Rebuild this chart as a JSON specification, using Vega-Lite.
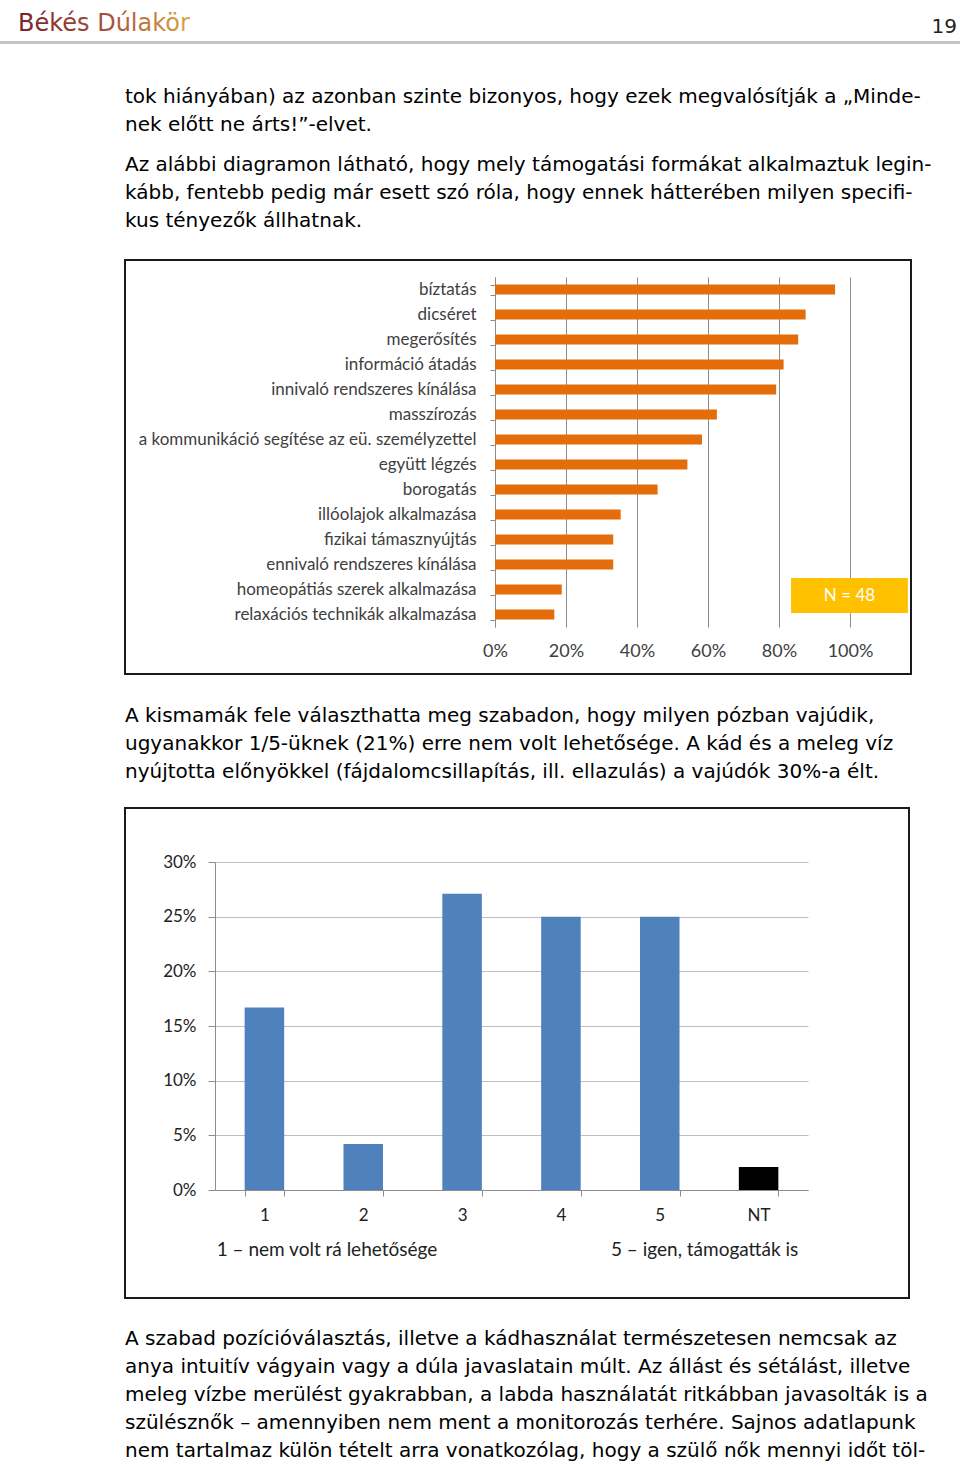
{
  "$schema": "https://vega.github.io/schema/vega-lite/v6.json",
  "padding": {"top": 10, "left": 0, "right": 0, "bottom": 0},
  "background": "white",
  "spacing": 42,
  "config": {
    "view": {"stroke": null},
    "font": "DejaVu Sans",
    "title": {
      "anchor": "start",
      "frame": "group",
      "font": "DejaVu Sans",
      "fontSize": 20,
      "fontWeight": "normal",
      "color": "#000000",
      "lineHeight": 28,
      "subtitleFont": "DejaVu Sans",
      "subtitleFontSize": 20,
      "subtitleColor": "#000000",
      "subtitleLineHeight": 28,
      "subtitlePadding": 20,
      "offset": 30
    }
  },
  "vconcat": [
    {
      "width": 960,
      "height": 1,
      "view": {"stroke": "#c4c4c4", "strokeWidth": 2, "fill": "#c4c4c4"},
      "data": {"values": [
        {"hely": "bal", "szoveg": "Békés Dúlakör"},
        {"hely": "jobb", "szoveg": "19"}
      ]},
      "encoding": {
        "x": {"field": "hely", "type": "nominal", "scale": {"type": "point", "domain": ["bal", "jobb"], "padding": 0}, "axis": null}
      },
      "layer": [
        {
          "transform": [{"filter": "datum.hely === 'bal'"}],
          "mark": {"type": "text", "align": "left", "baseline": "alphabetic", "dx": 17, "dy": -12, "font": "DejaVu Sans", "fontSize": 24,
            "color": {"gradient": "linear", "x1": 0, "x2": 1, "y1": 0, "y2": 0, "stops": [{"offset": 0, "color": "#762428"}, {"offset": 0.55, "color": "#a8553a"}, {"offset": 1, "color": "#dba846"}]}},
          "encoding": {"text": {"field": "szoveg"}}
        },
        {
          "transform": [{"filter": "datum.hely === 'jobb'"}],
          "mark": {"type": "text", "align": "right", "baseline": "alphabetic", "dx": -4, "dy": -10, "font": "DejaVu Sans", "fontSize": 20, "color": "#222222"},
          "encoding": {"text": {"field": "szoveg"}}
        }
      ]
    },
    {
      "spacing": 0,
      "hconcat": [
        {
          "width": 123,
          "height": 1,
          "data": {"values": []},
          "mark": "point"
        },
        {
          "spacing": 30,
          "vconcat": [
            {
              "width": 786,
              "height": 414,
              "view": {"stroke": "#1a1a1a", "strokeWidth": 2},
              "title": {
                "text": ["tok hiányában) az azonban szinte bizonyos, hogy ezek megvalósítják a „Minde-", "nek előtt ne árts!”-elvet."],
                "subtitle": ["Az alábbi diagramon látható, hogy mely támogatási formákat alkalmaztuk legin-", "kább, fentebb pedig már esett szó róla, hogy ennek hátterében milyen specifi-", "kus tényezők állhatnak."],
                "offset": 20
              },
              "data": {"values": [
                {"forma": "bíztatás", "arany": 0.958},
                {"forma": "dicséret", "arany": 0.875},
                {"forma": "megerősítés", "arany": 0.854},
                {"forma": "információ átadás", "arany": 0.813},
                {"forma": "innivaló rendszeres kínálása", "arany": 0.792},
                {"forma": "masszírozás", "arany": 0.625},
                {"forma": "a kommunikáció segítése az eü. személyzettel", "arany": 0.583},
                {"forma": "együtt légzés", "arany": 0.542},
                {"forma": "borogatás", "arany": 0.458},
                {"forma": "illóolajok alkalmazása", "arany": 0.354},
                {"forma": "fizikai támasznyújtás", "arany": 0.333},
                {"forma": "ennivaló rendszeres kínálása", "arany": 0.333},
                {"forma": "homeopátiás szerek alkalmazása", "arany": 0.188},
                {"forma": "relaxációs technikák alkalmazása", "arany": 0.167}
              ]},
              "layer": [
                {
                  "mark": {"type": "bar", "color": "#e46c0a"},
                  "encoding": {
                    "y": {
                      "field": "forma", "type": "nominal",
                      "scale": {
                        "domain": ["bíztatás", "dicséret", "megerősítés", "információ átadás", "innivaló rendszeres kínálása", "masszírozás", "a kommunikáció segítése az eü. személyzettel", "együtt légzés", "borogatás", "illóolajok alkalmazása", "fizikai támasznyújtás", "ennivaló rendszeres kínálása", "homeopátiás szerek alkalmazása", "relaxációs technikák alkalmazása"],
                        "range": [17, 367], "paddingInner": 0.6, "paddingOuter": 0.3
                      },
                      "axis": {
                        "title": null, "offset": -370, "labelLimit": 0, "labelFont": "Lato", "labelFontSize": 17, "labelColor": "#404040",
                        "labelPadding": 14, "tickBand": "extent", "tickSize": 5, "tickColor": "#8c8c8c", "domain": true, "domainColor": "#8c8c8c", "grid": false
                      }
                    },
                    "x": {
                      "field": "arany", "type": "quantitative",
                      "scale": {"domain": [0, 1], "range": [370, 725], "nice": false, "zero": true},
                      "axis": {
                        "orient": "top", "title": null, "offset": -391, "format": "%", "values": [0, 0.2, 0.4, 0.6, 0.8, 1], "domain": false, "ticks": false, "tickSize": 0,
                        "labelFlush": false, "labelBaseline": "middle", "labelPadding": 0,
                        "grid": true, "gridColor": "#8c8c8c", "labelFont": "Lato", "labelFontSize": 18, "labelColor": "#404040"
                      }
                    }
                  }
                },
                {
                  "data": {"values": [{"felirat": "N = 48", "sor": "homeopátiás szerek alkalmazása", "bal": 0.834, "jobb": 1.163, "kozep": 0.9985}]},
                  "mark": {"type": "bar", "color": "#ffc000", "height": 35, "yOffset": 6},
                  "encoding": {
                    "y": {"field": "sor", "type": "nominal"},
                    "x": {"field": "bal", "type": "quantitative"},
                    "x2": {"field": "jobb"}
                  }
                },
                {
                  "data": {"values": [{"felirat": "N = 48", "sor": "homeopátiás szerek alkalmazása", "bal": 0.834, "jobb": 1.163, "kozep": 0.9985}]},
                  "mark": {"type": "text", "color": "#ffffff", "font": "Lato", "fontSize": 17, "yOffset": 6, "align": "center", "baseline": "middle"},
                  "encoding": {
                    "y": {"field": "sor", "type": "nominal"},
                    "x": {"field": "kozep", "type": "quantitative"},
                    "text": {"field": "felirat"}
                  }
                }
              ]
            },
            {
              "width": 784,
              "height": 490,
              "view": {"stroke": "#1a1a1a", "strokeWidth": 2},
              "title": {
                "text": ["A kismamák fele választhatta meg szabadon, hogy milyen pózban vajúdik,", "ugyanakkor 1/5-üknek (21%) erre nem volt lehetősége. A kád és a meleg víz", "nyújtotta előnyökkel (fájdalomcsillapítás, ill. ellazulás) a vajúdók 30%-a élt."],
                "offset": 26
              },
              "data": {"values": [
                {"kat": "1", "arany": 0.167, "csoport": "valasz"},
                {"kat": "2", "arany": 0.042, "csoport": "valasz"},
                {"kat": "3", "arany": 0.271, "csoport": "valasz"},
                {"kat": "4", "arany": 0.25, "csoport": "valasz"},
                {"kat": "5", "arany": 0.25, "csoport": "valasz"},
                {"kat": "NT", "arany": 0.021, "csoport": "nt"}
              ]},
              "layer": [
                {
                  "mark": {"type": "bar"},
                  "encoding": {
                    "x": {
                      "field": "kat", "type": "nominal",
                      "scale": {"domain": ["1", "2", "3", "4", "5", "NT"], "range": [90, 683], "paddingInner": 0.6, "paddingOuter": 0.3},
                      "axis": {
                        "title": null, "offset": -108, "labelAngle": 0, "tickBand": "extent", "tickSize": 6, "tickColor": "#8c8c8c", "domainColor": "#8c8c8c",
                        "labelFont": "Lato", "labelFontSize": 17, "labelColor": "#222222", "labelPadding": 11
                      }
                    },
                    "y": {
                      "field": "arany", "type": "quantitative",
                      "scale": {"domain": [0, 0.3], "range": [382, 54], "nice": false},
                      "axis": {
                        "title": null, "offset": -90, "format": "%", "values": [0, 0.05, 0.1, 0.15, 0.2, 0.25, 0.3], "grid": true, "gridColor": "#bfbfbf",
                        "tickSize": 7, "tickColor": "#8c8c8c", "domainColor": "#8c8c8c", "labelFont": "Lato", "labelFontSize": 17, "labelColor": "#222222", "labelPadding": 12
                      }
                    },
                    "color": {"field": "csoport", "type": "nominal", "scale": {"domain": ["valasz", "nt"], "range": ["#4f81bd", "#000000"]}, "legend": null}
                  }
                },
                {
                  "data": {"values": [{"kat": "1", "megj": "1 – nem volt rá lehetősége", "hely": -0.055}]},
                  "mark": {"type": "text", "align": "left", "baseline": "middle", "dx": -28, "font": "Lato", "fontSize": 19, "color": "#222222"},
                  "encoding": {
                    "x": {"field": "kat", "type": "nominal", "bandPosition": 0},
                    "y": {"field": "hely", "type": "quantitative"},
                    "text": {"field": "megj"}
                  }
                },
                {
                  "data": {"values": [{"kat": "NT", "megj": "5 – igen, támogatták is", "hely": -0.055}]},
                  "mark": {"type": "text", "align": "right", "baseline": "middle", "dx": 20, "font": "Lato", "fontSize": 19, "color": "#222222"},
                  "encoding": {
                    "x": {"field": "kat", "type": "nominal", "bandPosition": 1},
                    "y": {"field": "hely", "type": "quantitative"},
                    "text": {"field": "megj"}
                  }
                }
              ]
            },
            {
              "width": 786,
              "height": 1,
              "title": {
                "text": ["A szabad pozícióválasztás, illetve a kádhasználat természetesen nemcsak az", "anya intuitív vágyain vagy a dúla javaslatain múlt. Az állást és sétálást, illetve", "meleg vízbe merülést gyakrabban, a labda használatát ritkábban javasolták is a", "szülésznők – amennyiben nem ment a monitorozás terhére. Sajnos adatlapunk", "nem tartalmaz külön tételt arra vonatkozólag, hogy a szülő nők mennyi időt töl-"],
                "dy": 3
              },
              "data": {"values": []},
              "mark": "point"
            }
          ]
        }
      ]
    }
  ]
}
